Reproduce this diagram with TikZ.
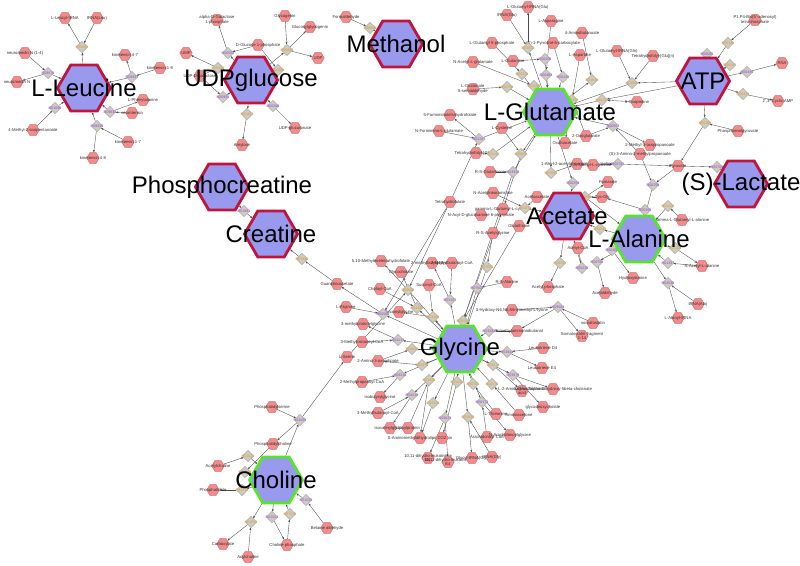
\documentclass[tikz,border=0pt]{standalone}
\usepackage{fontspec}
\setmainfont{Liberation Sans}
\usetikzlibrary{shapes.geometric,arrows.meta,backgrounds}
\definecolor{bigfill}{HTML}{9999EE}
\definecolor{bigred}{HTML}{C0143C}
\definecolor{biggreen}{HTML}{55E52A}
\definecolor{metfill}{HTML}{F28C8C}
\definecolor{metline}{HTML}{D06A6A}
\definecolor{rxfill}{HTML}{CDCDBE}
\definecolor{rxline}{HTML}{9A9A9A}
\definecolor{rxpurple}{HTML}{9B3DF0}
\definecolor{rxorange}{HTML}{E8952E}
\definecolor{edgecol}{HTML}{4A4A4A}
\definecolor{labgray}{HTML}{303030}
\tikzset{
 big/.style={regular polygon, regular polygon sides=6, minimum size=53pt, inner sep=0pt,
   fill=bigfill, line width=2.8pt, font=\fontsize{24}{24}\selectfont},
 bigr/.style={big, draw=bigred},
 bigg/.style={big, draw=biggreen},
 metnode/.style={regular polygon, regular polygon sides=6, minimum size=12.5pt, inner sep=0pt,
   fill=metfill, draw=metline, line width=0.4pt},
 mlab/.style={font=\fontsize{4.2}{4.6}\selectfont, text=labgray, align=center, inner sep=0pt},
 mt/.style={metnode, label={[mlab]center:{#1}}},
 rxnode/.style={diamond, minimum width=11.5pt, minimum height=11.5pt, inner sep=0pt,
   fill=rxfill, draw=rxline, line width=0.4pt},
 rlab/.style={font=\fontsize{3.6}{3.6}\selectfont, inner sep=0pt},
 rp/.style={rxnode, label={[rlab,text=rxpurple]center:{#1}}},
 ro/.style={rxnode, label={[rlab,text=rxorange]center:{#1}}},
 edg/.style={draw=edgecol, line width=0.35pt, -{Stealth[length=2.6pt,width=2pt]}}
}
\begin{document}
\begin{tikzpicture}[x=1pt,y=-1pt]
\useasboundingbox (0,0) rectangle (800,565);
% ---------- L-Leucine cluster
\node[mt={L-Leucyl-tRNA}] (leutrna) at (65,18) {};
\node[mt={tRNA(Leu)}] (trnaleu) at (97,18) {};
\node[mt={neuromedin N (1-4)}] (nmn14) at (25,53) {};
\node[mt={neuromedin N}] (nmn) at (17,82) {};
\node[mt={4-Methyl-2-oxopentanoate}] (mop) at (33,130) {};
\node[mt={kinetensin 4-8}] (kin48) at (93,158) {};
\node[mt={kinetensin 1-7}] (kin17) at (128,142) {};
\node[mt={neurotensin}] (ntens) at (132,113) {};
\node[mt={L-Phenylalanine}] (phe) at (143,100) {};
\node[mt={kinetensin 1-8}] (kin18) at (160,68) {};
\node[mt={kinetensin 4-7}] (kin47) at (125,55) {};
\node[ro=R03657] (r1) at (82,47) {};
\node[rp=R09976] (r2) at (48,73) {};
\node[rp=R01090] (r3) at (55,108) {};
\node[rp=R09937] (r4) at (132,77) {};
\node[rp=R09933] (r5) at (110,112) {};
\node[rp=R09935] (r6) at (97,126) {};
% ---------- UDPglucose cluster
\node[mt={alpha-D-Galactose\\1-phosphate}] (galp) at (217,20) {};
\node[mt={Glycogenin}] (glycogenin) at (285,16) {};
\node[mt={Glucosylglycogenin}] (glucgly) at (310,27) {};
\node[mt={UMP}] (ump) at (186,53) {};
\node[mt={UDP}] (udp) at (318,58) {};
\node[mt={D-Glucose 1-phosphate}] (g1p) at (258,45) {};
\node[mt={UDP-D-galactose}] (udpgal) at (200,76) {};
\node[mt={UDP-glucuronate}] (udpgluc) at (295,128) {};
\node[mt={Amylose}] (amylose) at (242,145) {};
\node[rp=R00502] (u1) at (228,53) {};
\node[ro=R00291] (u2) at (218,68) {};
\node[ro=R00292] (u3) at (287,50) {};
\node[ro=R00289] (u4) at (278,70) {};
\node[rp=R00955] (u5) at (223,97) {};
\node[rp=R00286] (u6) at (273,106) {};
\node[ro=R02421] (u7) at (247,114) {};
% ---------- Methanol / Creatine
\node[mt={Formaldehyde}] (formald) at (346,17) {};
\node[ro=R00605] (m1) at (370,28) {};
\node[rp=R01881] (c1) at (244,211) {};
\node[ro=R01883] (c2) at (302,259) {};
\node[mt={Guanidinoacetate}] (guan) at (337,284) {};
% ---------- L-Glutamate cluster
\node[mt={L-Glutamyl-tRNA(Glu)}] (gtrna) at (528,7) {};
\node[mt={tRNA(Glu)}] (trnaglu) at (507,15) {};
\node[mt={L-Asparagine}] (asn) at (551,21) {};
\node[mt={4-Aminobutanoate}] (gaba) at (582,33) {};
\node[mt={L-Glutamyl 5-phosphate}] (g5p) at (492,43) {};
\node[mt={(S)-1-Pyrroline-5-carboxylate}] (p5c) at (553,43) {};
\node[mt={N-Acetyl-L-glutamate}] (nag2) at (473,62) {};
\node[mt={L-Glutamine}] (gln) at (513,61) {};
\node[mt={L-Aspartate}] (asp) at (580,55) {};
\node[mt={L-Glutamate\\5-semialdehyde}] (gsa) at (473,89) {};
\node[mt={5-Formiminotetrahydrofolate}] (fthf) at (450,115) {};
\node[mt={N-Formimino-L-glutamate}] (figlu) at (439,131) {};
\node[mt={L-Cysteine}] (cys) at (502,128) {};
\node[mt={Oxaloacetate}] (oaa) at (565,143) {};
\node[mt={2-Oxoglutarate}] (akg) at (586,136) {};
\node[mt={Tetrahydrofolyl-[Glu](n)}] (thfglu) at (476,153) {};
\node[mt={R-S-Glutathione}] (rsgsh) at (490,172) {};
\node[mt={1-Alkyl-2-acetylglycerophosphocholine}] (alkyl) at (577,164) {};
\node[mt={N-Acetylneuraminate}] (nacn) at (493,193) {};
\node[mt={Acetoacetate}] (acetoac) at (537,197) {};
\node[mt={Tetrahydrofolate}] (thf) at (450,202) {};
\node[mt={gamma-L-Glutamyl-L-cysteine}] (ggc) at (503,209) {};
\node[mt={N-Acyl-D-glucosamine 6-phosphate}] (nacg) at (481,215) {};
\node[mt={Glutathione}] (glut) at (519,226) {};
\node[mt={R-S-Acetylglycine}] (rsac) at (493,233) {};
\node[ro=R03652] (g1) at (528,48) {};
\node[rp=R00256] (g2) at (545,59) {};
\node[rp=R00483] (g3) at (546,75) {};
\node[rp=R00245] (g4) at (563,77) {};
\node[ro=R00239] (g5) at (522,74) {};
\node[ro=R00708] (g6) at (507,87) {};
\node[ro=R00259] (g7) at (534,86) {};
\node[ro=R00355] (g8) at (572,100) {};
\node[ro=R01648] (g9) at (592,80) {};
\node[rp=R02287] (g10) at (479,139) {};
\node[ro=R04241] (g11) at (493,154) {};
\node[ro=R00894] (g12) at (521,154) {};
\node[rp=R03916] (g13) at (513,172) {};
\node[ro=R07064] (g14) at (551,173) {};
\node[rp=R00259] (g15) at (573,183) {};
\node[ro=R00251] (g17) at (602,100) {};
\node[rp=R00907] (g18) at (613,126) {};
\node[ro=R03905] (g19) at (632,83) {};
\node[rp=R00782] (g20) at (618,164) {};
\node[rp=R00258] (g21) at (653,185) {};
\node[ro=R00899] (g22) at (585,197) {};
\node[ro=R01811] (ga1) at (525,208) {};
% ---------- ATP / Lactate / Alanine
\node[mt={P1,P4-Bis(5'-adenosyl)\\tetraphosphate}] (ap4a) at (755,20) {};
\node[mt={RNA}] (rna) at (782,63) {};
\node[mt={2',3'-Cyclic AMP}] (camp) at (778,101) {};
\node[mt={Phosphoenolpyruvate}] (pep) at (738,131) {};
\node[mt={L-Glutamyl-tRNA(Gln)}] (glutrnagln) at (617,51) {};
\node[mt={Tetrahydrofolyl-[Glu](n)}] (thfgln) at (653,56) {};
\node[mt={5-Oxoproline}] (oxopro) at (637,102) {};
\node[mt={2-Methyl-3-oxopropanoate}] (mop2) at (650,145) {};
\node[mt={(S)-3-Amino-2-methylpropanoate}] (amp) at (640,154) {};
\node[mt={Pyruvate}] (pyr) at (678,166) {};
\node[mt={S-Methyl-L-cysteine}] (scys) at (593,165) {};
\node[mt={Fumarate}] (fum) at (608,182) {};
\node[mt={Cys-Gly}] (cysgly) at (602,197) {};
\node[mt={gamma-L-Glutamyl-L-alanine}] (glala) at (682,220) {};
\node[mt={N-Acetyl-L-alanine}] (nacala) at (702,266) {};
\node[mt={Hydroxylamine}] (hq) at (633,278) {};
\node[mt={Acetaldehyde}] (acald) at (605,293) {};
\node[mt={tRNA(Ala)}] (trnaala) at (698,304) {};
\node[mt={L-Alanyl-tRNA}] (alatrna) at (678,318) {};
\node[mt={Acetyl-CoA}] (accoa) at (578,248) {};
\node[mt={Acetyl phosphate}] (acp) at (548,287) {};
\node[ro=R00125] (a1) at (728,43) {};
\node[rp=R00085] (a2) at (707,54) {};
\node[ro=R00087] (a3) at (730,65) {};
\node[rp=R00435] (a4) at (747,72) {};
\node[ro=R00434] (a5) at (743,94) {};
\node[ro=R00200] (a6) at (705,123) {};
\node[rp=R00703] (l1) at (717,167) {};
\node[ro=R01262] (al1) at (668,206) {};
\node[rp=R00396] (al2) at (645,210) {};
\node[ro=R00897] (al3) at (600,229) {};
\node[ro=R01304] (al4) at (675,248) {};
\node[rp=R01337] (al5) at (668,263) {};
\node[rp=R00400] (al6) at (612,250) {};
\node[rp=R00750] (al7) at (597,262) {};
\node[rp=R03038] (al8) at (668,283) {};
\node[ro=R00315] (ac1) at (560,263) {};
\node[rp=R00235] (ac2) at (582,268) {};
% ---------- Glycine cluster
\node[mt={5,10-Methylenetetrahydrofolate}] (mthf) at (381,261) {};
\node[mt={Glycocholate}] (glycochol) at (401,272) {};
\node[mt={Choloyl-CoA}] (cholcoa) at (380,289) {};
\node[mt={L-Arginine}] (larg) at (346,307) {};
\node[mt={3-methylcrotonylglycine}] (mcg) at (363,324) {};
\node[mt={3-Methylcrotonoyl-CoA}] (mccoa) at (362,342) {};
\node[mt={2-methylbutyrylglycine}] (mbg) at (432,263) {};
\node[mt={2-Methylbutanoyl-CoA}] (mbcoa) at (452,263) {};
\node[mt={Succinyl-CoA}] (succoa) at (429,285) {};
\node[mt={Succinylglycine}] (subgly) at (399,312) {};
\node[mt={L-Serine}] (ser) at (347,357) {};
\node[mt={2-Amino-3-oxoadipate}] (aoad) at (378,361) {};
\node[mt={2-Methylpropanoyl-CoA}] (mpcoa) at (362,382) {};
\node[mt={isobutyrylglycine}] (ibg) at (380,397) {};
\node[mt={3-Methylbutanoyl-CoA}] (mbucoa) at (378,413) {};
\node[mt={isovalerylglycine}] (ivg) at (390,428) {};
\node[mt={Lipoylprotein}] (lipo) at (408,428) {};
\node[mt={S-Aminomethyldihydrolipoylprotein}] (samdl) at (420,438) {};
\node[mt={CO2}] (co2) at (442,438) {};
\node[mt={10,11-dihydro-leukotriene\\D4}] (n1) at (428,458) {};
\node[mt={10,11-dihydro-leukotriene\\E4}] (n2) at (448,462) {};
\node[mt={Glycyl-tRNA(Gly)}] (n3) at (472,458) {};
\node[mt={tRNA(Gly)}] (n4) at (492,457) {};
\node[mt={Arachidonoyl-CoA}] (arcoa) at (487,437) {};
\node[mt={N-Arachidonoylglycine}] (nag) at (510,435) {};
\node[mt={L-Threonine}] (thr) at (496,414) {};
\node[mt={Aminoacetone}] (aminoac) at (519,415) {};
\node[mt={glycodeoxycholate}] (glydc) at (543,407) {};
\node[mt={L-2-Amino-3-oxobutanoic\\acid}] (aob) at (522,391) {};
\node[mt={3alpha,7alpha-Dihydroxy-5beta-cholanate}] (dhc) at (553,389) {};
\node[mt={Leukotriene D4}] (ltd4) at (543,348) {};
\node[mt={Leukotriene E4}] (lte4) at (542,368) {};
\node[mt={4-Trimethylammoniobutanal}] (tmab) at (517,331) {};
\node[mt={3-Hydroxy-N6,N6,N6-trimethyl-L-lysine}] (hml) at (512,310) {};
\node[mt={somatostatin}] (soma) at (593,323) {};
\node[mt={Somatostatin fragment\\1-14}] (somaf) at (582,336) {};
\node[mt={R-S-Alanine}] (rsala) at (507,282) {};
\node[rp=R00565] (y1) at (383,314) {};
\node[ro=R00945] (y2) at (408,290) {};
\node[ro=R04486] (y3) at (417,308) {};
\node[ro=R03168] (y4) at (433,317) {};
\node[rp=R03167] (y5) at (450,300) {};
\node[ro=R00494] (y6) at (463,321) {};
\node[ro=R07004] (y7) at (487,267) {};
\node[rp=R07003] (y8) at (477,288) {};
\node[rp=R04217] (y9) at (398,340) {};
\node[ro=R00830] (y10) at (412,349) {};
\node[ro=R00373] (y11) at (422,365) {};
\node[rp=R04218] (y12) at (400,375) {};
\node[rp=R04219] (y13) at (412,395) {};
\node[ro=R03425] (y14) at (429,380) {};
\node[ro=R01221] (y15) at (457,382) {};
\node[ro=R04125] (y16) at (433,403) {};
\node[rp=R09621] (y17) at (445,418) {};
\node[ro=R03654] (y18) at (468,417) {};
\node[ro=R00751] (y19) at (473,384) {};
\node[rp=R08173] (y20) at (482,402) {};
\node[ro=R00371] (y21) at (492,384) {};
\node[rp=R03979] (y22) at (513,375) {};
\node[ro=R02312] (y23) at (493,365) {};
\node[rp=R03913] (y24) at (507,352) {};
\node[rp=R03283] (y25) at (489,331) {};
\node[rp=R09584] (y26) at (558,307) {};
% ---------- Choline cluster
\node[mt={Phosphatidylserine}] (pser) at (272,407) {};
\node[mt={Phosphatidylcholine}] (pcho) at (273,444) {};
\node[mt={Acetylcholine}] (achol) at (218,466) {};
\node[mt={Phosphatidate}] (phal) at (213,490) {};
\node[mt={Betaine aldehyde}] (betald) at (327,528) {};
\node[mt={Choline phosphate}] (chp) at (287,545) {};
\node[mt={Carboxylate}] (carb) at (223,544) {};
\node[mt={Acylcholine}] (acyl) at (248,557) {};
\node[rp=R03209] (ch1) at (300,420) {};
\node[ro=R01023] (ch2) at (248,456) {};
\node[ro=R01026] (ch3) at (245,472) {};
\node[ro=R01310] (ch4) at (242,490) {};
\node[rp=R01025] (ch5) at (306,500) {};
\node[rp=R01021] (ch6) at (272,517) {};
\node[ro=R07375] (ch7) at (290,514) {};
\node[ro=R01024] (ch8) at (251,522) {};
% ---------- big nodes
\node[bigr] (LLeu) at (84,88) {\makebox[0pt]{L-Leucine}};
\node[bigr] (UDPG) at (251,80) {\makebox[0pt]{UDPglucose}};
\node[bigr] (Meth) at (396,44) {\makebox[0pt]{Methanol}};
\node[bigr] (PCr) at (222,187) {\makebox[0pt]{Phosphocreatine}};
\node[bigr] (Cr) at (271,234) {\makebox[0pt]{Creatine}};
\node[bigg] (LGlu) at (550,112) {\makebox[0pt]{L-Glutamate}};
\node[bigr] (ATP) at (703,81) {\makebox[0pt]{ATP}};
\node[bigr] (Lac) at (741,184) {\makebox[0pt]{(S)-Lactate}};
\node[bigr] (Acet) at (567,216) {\makebox[0pt]{Acetate}};
\node[bigg] (LAla) at (639,239) {\makebox[0pt]{L-Alanine}};
\node[bigg] (Gly) at (460,349) {\makebox[0pt]{Glycine}};
\node[bigg] (Cho) at (276,480) {\makebox[0pt]{Choline}};
% ---------- connectors
\begin{scope}[on background layer]
\foreach \a/\b in {trnaleu/r1, r1/leutrna, LLeu/r1, nmn14/r2, r2/nmn, r2/LLeu, mop/r3, r3/LLeu,
  kin18/r4, r4/kin47, r4/LLeu, ntens/r5, r5/phe, r5/LLeu, kin17/r6, r6/kin48, r6/LLeu,
  g1p/u1, u1/galp, UDPG/u1, u2/ump, udpgal/u2, UDPG/u2, glycogenin/u3, u3/glucgly, u3/udp, UDPG/u3,
  g1p/u4, u4/UDPG, udpgal/u5, u5/UDPG, UDPG/u6, u6/udpgluc, UDPG/u7, u7/amylose,
  formald/m1, m1/Meth, PCr/c1, c1/Cr, c2/Cr, guan/c2,
  trnaglu/g1, g1/gtrna, LGlu/g1, gln/g2, g2/LGlu, asn/g3, g3/LGlu, p5c/g4, g4/LGlu,
  g5p/g5, g5/LGlu, gsa/g6, g6/LGlu, nag2/g7, g7/LGlu, asp/g8, akg/g8, g8/oaa, g8/LGlu,
  gaba/g9, LGlu/g9, figlu/g10, g10/fthf, g10/LGlu, thf/g10, thfglu/g11, g11/LGlu,
  cys/g12, LGlu/g12, g12/ggc, rsgsh/g13, g13/LGlu, LGlu/g14, g14/alkyl, LGlu/g15, g15/Acet,
  oxopro/g17, g17/LGlu, ATP/g17, akg/g18, amp/g18, g18/mop2, g18/LGlu,
  ATP/g19, glutrnagln/g19, thfgln/g19, g19/LGlu, scys/g20, g20/pyr,
  amp/g21, pyr/g21, g21/LAla, cysgly/g22, g22/fum, g22/LAla, nacn/ga1, acetoac/ga1, ga1/Acet,
  ap4a/a1, a1/ATP, ATP/a2, ATP/a3, ATP/a4, a4/rna, ATP/a5, a5/camp, ATP/a6, pep/a6, a6/pyr,
  pyr/l1, l1/Lac, glala/al1, al1/LAla, LAla/al2, al2/cysgly, LAla/al3, al3/Acet,
  LAla/al4, al4/nacala, nacala/al5, al5/LAla, LAla/al6, al6/hq, LAla/al7, al7/acald,
  LAla/al8, trnaala/al8, al8/alatrna, Acet/ac1, ac1/acp, accoa/ac2, ac2/Acet,
  larg/y1, y1/guan, Gly/y1, thf/y1, ser/y2, thf/y2, y2/mthf, y2/Gly,
  cholcoa/y3, y3/glycochol, Gly/y3, succoa/y4, y4/subgly, Gly/y4, mbcoa/y5, y5/mbg, Gly/y5,
  glut/y6, y6/ggc, y6/Gly, g13/y6, rsac/y7, y7/Gly, rsala/y8, y8/Gly,
  mccoa/y9, y9/mcg, Gly/y9, aoad/y10, y10/Gly, Gly/y11, y11/aoad,
  mpcoa/y12, y12/ibg, Gly/y12, mbucoa/y13, y13/ivg, Gly/y13,
  Gly/y14, lipo/y14, y14/samdl, Gly/y16, y16/samdl, Gly/y17, y17/n1, y17/n2,
  Gly/y15, y15/co2, Gly/y18, y18/n3, n4/y18, arcoa/y20, y20/nag, Gly/y20,
  thr/y19, y19/Gly, aminoac/y21, y21/Gly, Gly/y22, y22/dhc, y22/glydc, Gly/y23, y23/aob,
  Gly/y24, ltd4/y24, y24/lte4, tmab/y25, y25/Gly, hml/y26, y26/tmab, soma/y26, y26/somaf,
  pser/ch1, ch1/pcho, Cho/ch1, ch1/ser, achol/ch2, ch2/Cho, pcho/ch3, ch3/Cho,
  Cho/ch4, ch4/phal, betald/ch5, ch5/Cho, Cho/ch6, ch6/chp, chp/ch7, ch7/Cho,
  Cho/ch8, ch8/carb, acyl/ch8}
  \draw[edg] (\a) -- (\b);
\end{scope}
\end{tikzpicture}
\end{document}
